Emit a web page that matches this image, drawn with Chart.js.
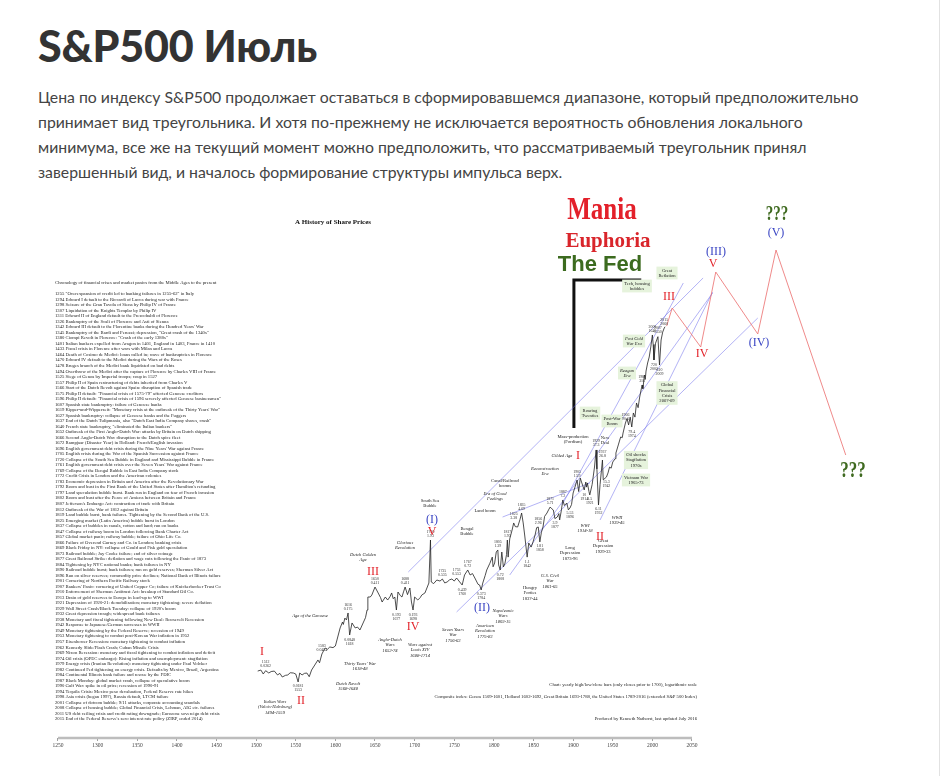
<!DOCTYPE html>
<html>
<head>
<meta charset="utf-8">
<script src="https://cdn.jsdelivr.net/npm/chart.js@4.4.1/dist/chart.umd.min.js"></script>
<style>
  body { margin: 0; background: #fff; width: 942px; height: 776px; overflow: hidden; position: relative; }
  h1 { position: absolute; left: 38px; top: 24px; margin: 0; font: 900 43px/43px Lato, "Noto Sans", sans-serif; color: #333; letter-spacing: -0.2px; }
  .txt { position: absolute; left: 38px; top: 84px; margin: 0; font: 15.8px/25px Lato, "Noto Sans", sans-serif; color: #444; }
  .edge { position: absolute; left: 939px; top: 0; width: 1px; height: 776px; background: #e2e2e2; }
  #wrap { position: absolute; left: 0; top: 190px; width: 942px; height: 586px; }
</style>
</head>
<body>
<h1>S&amp;P500 Июль</h1>
<p class="txt">Цена по индексу S&amp;P500 продолжает оставаться в сформировавшемся диапазоне, который предположительно<br>принимает вид треугольника. И хотя по-прежнему не исключается вероятность обновления локального<br>минимума, все же на текущий момент можно предположить, что рассматриваемый треугольник принял<br>завершенный вид, и началось формирование структуры импульса верх.</p>
<div class="edge"></div>
<div id="wrap"><canvas id="myChart"></canvas></div>
<script>
// composite share price index (log scale)
var years = [1502,1506,1509,1512,1516,1519,1523,1527,1530,1533,1537,1540,1543,1547,1550,1553,1555,1558,1561,1564,1567,1570,1574,1578,1580,1583,1587,1590,1593,1597,1600,1602,1606,1609,1610,1612,1614,1616,1618,1621,1625,1628,1631,1635,1638,1640,1641,1644,1646,1650,1654,1657,1659,1663,1666,1669,1671,1673,1675,1677,1679,1682,1684,1686,1688,1691,1694,1696,1698,1700,1704,1707,1709,1713,1716,1718,1720,1721,1724,1728,1732,1735,1738,1741,1744,1747,1750,1753,1756,1760,1763,1767,1770,1773,1776,1780,1782,1784,1786,1789,1791,1795,1798,1799,1801,1803,1805,1806,1808,1810,1812,1814,1816,1817,1818,1820,1823,1825,1827,1830,1833,1835,1837,1839,1842,1844,1847,1849,1852,1854,1856,1858,1860,1862,1864,1867,1869,1871,1873,1875,1877,1880,1882,1883,1885,1887,1889,1892,1894,1896,1898,1900,1902,1905,1907,1909,1911,1914,1916,1917,1918,1920,1921,1924,1927,1929,1930,1932,1934,1937,1938,1942,1944,1946,1948,1950,1953,1954,1957,1960,1962,1963,1966,1968,1970,1972,1974,1976,1978,1980,1982,1984,1987,1988,1990,1991,1992,1994,1996,1998,2000,2001,2002,2004,2007,2009,2011,2013,2015,2016];
var index = [0.0259,0.0268,0.0235,0.0262,0.0243,0.0255,0.0259,0.0228,0.024,0.0213,0.0225,0.0228,0.0245,0.0243,0.0235,0.0181,0.0243,0.0228,0.024,0.0243,0.0215,0.0268,0.0316,0.0373,0.034,0.0454,0.0553,0.053,0.0572,0.056,0.0591,0.072,0.107,0.13,0.12,0.148,0.139,0.175,0.0848,0.126,0.107,0.11,0.1,0.126,0.15,0.193,0.296,0.296,0.316,0.411,0.338,0.29,0.251,0.296,0.268,0.3,0.338,0.28,0.296,0.193,0.349,0.31,0.296,0.35,0.411,0.32,0.398,0.251,0.193,0.296,0.268,0.29,0.316,0.338,0.411,0.469,1.93,0.485,0.46,0.518,0.5,0.535,0.47,0.485,0.52,0.535,0.5,0.553,0.5,0.439,0.611,0.72,0.611,0.64,0.553,0.45,0.439,0.373,0.469,0.6,0.72,0.9,1.1,0.8,0.906,1.3,1.39,0.85,0.72,1.3,0.794,0.9,1.2,1.93,1.1,2.0,2.68,3.38,3.0,2.96,3.8,4.69,3.38,2.2,1.1,1.75,1.53,1.75,2.28,2.9,2.96,1.81,2.5,2.96,4.2,4.69,5.2,5.71,5.4,5.18,3.9,4.11,4.6,3.73,5.0,7.2,6.0,6.52,5.2,5.53,6.2,9.06,10.7,13.9,9.5,14.8,12.6,10.0,13.0,11.0,12.6,9.5,8.5,12.0,21.3,37.3,20.0,6.11,12.0,26.8,14.0,15.3,17.5,21.3,20.5,25.1,28.0,33.8,44.0,57.2,56.0,65.2,90.6,105,85,110,79.4,126,110,175,150,213,316,280,439,380,500,652,794,1104,1638,1200,720,1250,1550,610,1389,1800,2062,2150];

// labelled highs and lows
var peakYears = [1512,1583,1616,1650,1688,1720,1735,1753,1767,1805,1817,1825,1835,1856,1871,1887,1905,1929,1937,1966,1987,2000,2007,2015];
var troughYears = [1553,1618,1677,1698,1760,1784,1808,1842,1858,1877,1896,1914,1921,1932,1942,1974,2002,2009];

// Elliott wave projection
var forecastYears = [2018,2025,2061,2080,2133,2156,2244];
var forecastValues = [2200,3981,1104,13000,1693,26800,31.6];

// trend channels: [year1, value1, year2, value2]
var channels = [
  [1692,0.674,2064,10680],
  [1753,0.181,2133,2865],
  [1811,4.11,1921,12.6],
  [1820,0.611,2076,6518],
  [1886,6.11,2039,9060],
  [1934,3.73,2076,6740]
];

// "The Fed" bracket
var fedYears = [1901,1901,1986];
var fedValues = [77,10000,10000];

var tickYears = [1250,1300,1350,1400,1450,1500,1550,1600,1650,1700,1750,1800,1850,1900,1950,2000,2050];

var crises = [
  '1255 "Overexpansion of credit led to banking failures in 1255-62" in Italy',
  '1294 Edward I default to the Riccardi of Lucca during war with France',
  '1298 Seizure of the Gran Tavola of Siena by Philip IV of France',
  '1307 Liquidation of the Knights Templar by Philip IV',
  '1311 Edward II of England default to the Frescobaldi of Florence',
  '1326 Bankruptcy of the Scali of Florence and Asti of Sienna',
  "1342 Edward III default to the Florentine banks during the Hundred Years' War",
  '1345 Bankruptcy of the Bardi and Peruzzi; depression, "Great crash of the 1340s"',
  '1380 Ciompi Revolt in Florence: "Crash of the early 1380s"',
  '1401 Italian bankers expelled from Aragon in 1401, England in 1403, France in 1410',
  '1433 Fiscal crisis in Florence after wars with Milan and Lucca',
  '1464 Death of Cosimo de Medici: loans called in; wave of bankruptcies in Florence',
  '1470 Edward IV default to the Medici during the Wars of the Roses',
  '1478 Bruges branch of the Medici bank liquidated on bad debts',
  '1494 Overthrow of the Medici after the capture of Florence by Charles VIII of France',
  '1525 Siege of Genoa by Imperial troops; coup in 1527',
  '1557 Philip II of Spain restructuring of debts inherited from Charles V',
  "1566 Start of the Dutch Revolt against Spain: disruption of Spanish trade",
  '1575 Philip II default: "Financial crisis of 1575-79" affected Genoese creditors',
  '1596 Philip II default: "Financial crisis of 1596 severely affected Genoese businessmen"',
  '1607 Spanish state bankruptcy: failure of Genoese banks',
  "1619 Kipper-und-Wipperzeit: \"Monetary crisis at the outbreak of the Thirty Years' War\"",
  '1627 Spanish bankruptcy: collapse of Genoese banks and the Fuggers',
  '1637 End of the Dutch Tulipmania, also "Dutch East India Company shares, crash"',
  '1640 French state bankruptcy, "eliminated the Italian bankers"',
  '1652 Outbreak of the First Anglo-Dutch War: attacks by Britain on Dutch shipping',
  '1666 Second Anglo-Dutch War: disruption to the Dutch spice fleet',
  '1672 Rampjaar (Disaster Year) in Holland: French/English invasion',
  "1696 English government debt crisis during the Nine Years' War against France",
  '1705 English crisis during the War of the Spanish Succession against France',
  '1720 Collapse of the South Sea Bubble in England and Mississippi Bubble in France',
  "1761 English government debt crisis over the Seven Years' War against France",
  '1769 Collapse of the Bengal Bubble in East India Company stock',
  '1772 Credit Crisis in London and the American colonies',
  '1783 Economic depression in Britain and America after the Revolutionary War',
  "1792 Boom and bust in the First Bank of the United States after Hamilton's refunding",
  '1797 Land speculation bubble burst. Bank run in England on fear of French invasion',
  '1802 Boom and bust after the Peace of Amiens between Britain and France',
  "1807 Jefferson's Embargo Act: contraction of trade with Britain",
  '1812 Outbreak of the War of 1812 against Britain',
  '1819 Land bubble burst, bank failures. Tightening by the Second Bank of the U.S.',
  '1825 Emerging market (Latin America) bubble burst in London',
  '1837 Collapse of bubbles in canals, cotton and land; run on banks',
  '1847 Collapse of railway boom in London following Bank Charter Act',
  '1857 Global market panic; railway bubble; failure of Ohio Life Co.',
  '1866 Failure of Overend Gurney and Co. in London; banking crisis',
  '1869 Black Friday in NY: collapse of Gould and Fisk gold speculation',
  '1873 Railroad bubble; Jay Cooke failure; end of silver coinage',
  '1877 Great Railroad Strike: deflation and wage cuts following the Panic of 1873',
  '1884 Tightening by NYC national banks; bank failures in NY',
  '1890 Railroad bubble burst; bank failures; run on gold reserves; Sherman Silver Act',
  '1896 Run on silver reserves; commodity price declines; National Bank of Illinois failure',
  '1901 Cornering of Northern Pacific Railway stock',
  "1907 Bankers' Panic: cornering of United Copper Co; failure of Knickerbocker Trust Co",
  '1910 Enforcement of Sherman Antitrust Act: breakup of Standard Oil Co.',
  '1913 Drain of gold reserves to Europe in lead-up to WWI',
  '1921 Depression of 1920-21: demobilisation; monetary tightening; severe deflation',
  "1929 Wall Street Crash/Black Tuesday: collapse of 1920's boom",
  '1932 Great depression trough; widespread bank failures',
  '1938 Monetary and fiscal tightening following New Deal: Roosevelt Recession',
  '1942 Response to Japanese/German successes in WWII',
  '1949 Monetary tightening by the Federal Reserve; recession of 1949',
  '1953 Monetary tightening to combat post-Korean War inflation in 1952',
  '1957 Eisenhower Recession: monetary tightening to combat inflation',
  '1962 Kennedy Slide/Flash Crash; Cuban Missile Crisis',
  '1969 Nixon Recession: monetary and fiscal tightening to combat inflation and deficit',
  '1974 Oil crisis (OPEC embargo): Rising inflation and unemployment: stagflation',
  '1979 Energy crisis (Iranian Revolution): monetary tightening under Paul Volcker',
  '1982 Continued Fed tightening on energy crisis. Defaults by Mexico, Brazil, Argentina',
  '1984 Continental Illinois bank failure and rescue by the FDIC',
  '1987 Black Monday: global market crash, collapse of speculative boom',
  '1990 Gulf War: spike in oil price; recession of 1990-91',
  '1994 Tequila Crisis: Mexico peso devaluation, Federal Reserve rate hikes',
  '1998 Asia crisis (began 1997), Russia default, LTCM failure',
  '2001 Collapse of dotcom bubble; 9/11 attacks, corporate accounting scandals',
  '2008 Collapse of housing bubble; Global Financial Crisis, Lehman, AIG etc. failures',
  '2011 US debt ceiling crisis and credit rating downgrade; Eurozone sovereign debt crisis',
  "2015 End of the Federal Reserve's zero interest rate policy (ZIRP, ended 2014)"
];

// era notes: page x, page y (centre), lines, style (i = italic, g = green box)
var notes = [
  [310,616,['Age of the Genoese'],'i'],
  [363,557,['Dutch Golden','Age'],'i'],
  [405,545,['Glorious','Revolution'],'i'],
  [360,666,["Thirty Years' War",'1618-48'],'i'],
  [348,686,['Dutch Revolt','1568-1648'],'i'],
  [390,645,['Anglo-Dutch','Wars','1652-74'],'i'],
  [420,650,['Wars against','Louis XIV','1688-1714'],'i'],
  [453,635,['Seven Years','War','1756-63'],'i'],
  [275,707,['Italian Wars','(Valois-Habsburg)','1494-1559'],'i'],
  [430,503,['South Sea','Bubble'],''],
  [467,531,['Bengal','Bubble'],''],
  [485,511,['Land boom'],''],
  [495,496,['Era of Good','Feelings'],'i'],
  [505,483,['Canal/Railroad','booms'],''],
  [545,471,['Reconstruction','Era'],'i'],
  [562,456,['Gilded Age'],'i'],
  [573,439,['Mass-production','(Fordism)'],''],
  [590,413,['Roaring','Twenties'],'g'],
  [612,421,['Post-War','Boom'],'g'],
  [605,440,['New','Deal'],''],
  [627,373,['Reagan','Era'],'gi'],
  [634,341,['Post Cold','War Era'],'gi'],
  [637,286,['Tech, housing','bubbles'],'g'],
  [667,273,['Great','Reflation'],'g'],
  [667,393,['Global','Financial','Crisis','2007-09'],'g'],
  [636,460,['Oil shocks','Stagflation','1970s'],'g'],
  [636,480,['Vietnam War','1965-73'],'g'],
  [617,520,['WWII','1939-45'],'i'],
  [585,528,['WWI','1914-18'],'i'],
  [603,546,['Great','Depression','1929-33'],''],
  [570,553,['Long','Depression','1873-96'],''],
  [550,581,['U.S. Civil','War','1861-65'],'i'],
  [530,593,['Hungry','Forties','1837-44'],''],
  [503,616,['Napoleonic','Wars','1803-15'],'i'],
  [485,631,['American','Revolution','1775-83'],'i']
];

var redWaves = [[262,652,'I'],[301,701,'II'],[373,572,'III'],[413,627,'IV'],[432,532,'V'],[578,456,'I'],[600,537,'II'],[669,297,'III'],[702,354,'IV'],[713,264,'V']];
var blueWaves = [[432,520,'(I)'],[482,608,'(II)'],[716,252,'(III)'],[759,343,'(IV)'],[776,233,'(V)']];

var TOP = 190;
var SERIF = '"Liberation Serif", "DejaVu Serif", serif';

function pts(xs, ys) {
    return xs.map(function (x, i) { return { x: x, y: ys[i] }; });
}

var datasets = [];
datasets.push({
    data: pts(years, index),
    borderColor: '#222',
    borderWidth: 0.8
});
datasets.push({
    data: pts(forecastYears, forecastValues),
    borderColor: 'rgba(235,110,110,0.9)',
    borderWidth: 0.9
});
channels.forEach(function (c) {
    datasets.push({
        data: [{ x: c[0], y: c[1] }, { x: c[2], y: c[3] }],
        borderColor: 'rgba(110,110,235,0.75)',
        borderWidth: 0.7
    });
});
datasets.push({
    data: pts(fedYears, fedValues),
    borderColor: '#111',
    borderWidth: 3
});

var yMin = 0.002865;
var yMax = 193070;

datasets.push({
    data: [{ x: 1250, y: yMin }, { x: 2050, y: yMin }],
    borderColor: '#bdbdbd',
    borderWidth: 2.5,
    clip: false
});

/////////////////////////////////////////////////////////////////

var textPlugin = {
    id: 'texts',
    afterDraw: function (chart) {
        var ctx = chart.ctx;
        var xs = chart.scales.x;
        var ys = chart.scales.y;
        ctx.save();
        ctx.textBaseline = 'middle';

        // chart title and chronology
        ctx.fillStyle = '#111';
        ctx.textAlign = 'center';
        ctx.font = 'bold 7px ' + SERIF;
        ctx.fillText('A History of Share Prices', 333, 222 - TOP);

        ctx.textAlign = 'left';
        ctx.font = '4.7px ' + SERIF;
        ctx.fillStyle = '#222';
        ctx.fillText('Chronology of financial crises and market panics from the Middle Ages to the present', 55, 283 - TOP);
        crises.forEach(function (t, i) {
            ctx.fillText(t, 55, 294 - TOP + i * 5.52);
        });

        ctx.textAlign = 'right';
        ctx.fillText('Chart: yearly high/low/close bars (only closes prior to 1700), logarithmic scale', 697, 685 - TOP);
        ctx.fillText('Composite index: Genoa 1509-1601, Holland 1602-1692, Great Britain 1693-1788, the United States 1789-2016 (extended S&P 500 Index)', 697, 697 - TOP);
        ctx.fillText('Produced by Kenneth Nathorst, last updated July 2016', 697, 719 - TOP);

        // era notes
        ctx.textAlign = 'center';
        notes.forEach(function (n) {
            var lh = 5.4;
            var h = n[2].length * lh;
            var y0 = n[1] - TOP - h / 2 + lh / 2;
            ctx.font = (n[3].indexOf('i') >= 0 ? 'italic ' : '') + '4.6px ' + SERIF;
            if (n[3].indexOf('g') >= 0) {
                var w = 0;
                n[2].forEach(function (l) { w = Math.max(w, ctx.measureText(l).width); });
                ctx.fillStyle = '#e6f3dc';
                ctx.fillRect(n[0] - w / 2 - 2, y0 - lh / 2 - 1, w + 4, h + 2);
            }
            ctx.fillStyle = '#222';
            n[2].forEach(function (l, i) {
                ctx.fillText(l, n[0], y0 + i * lh);
            });
        });

        // highs and lows with their values
        ctx.font = '3.9px ' + SERIF;
        ctx.fillStyle = '#333';
        peakYears.forEach(function (yr) {
            var i = years.indexOf(yr);
            var px = xs.getPixelForValue(yr);
            var py = ys.getPixelForValue(index[i]);
            ctx.fillText(String(yr), px, py - 8.5);
            ctx.fillText(String(+index[i].toPrecision(3)), px, py - 4.5);
        });
        troughYears.forEach(function (yr) {
            var i = years.indexOf(yr);
            var px = xs.getPixelForValue(yr);
            var py = ys.getPixelForValue(index[i]);
            ctx.fillText(String(+index[i].toPrecision(3)), px, py + 4.5);
            ctx.fillText(String(yr), px, py + 8.5);
        });

        // wave counts
        ctx.font = '12px ' + SERIF;
        ctx.fillStyle = '#e3242b';
        redWaves.forEach(function (w) { ctx.fillText(w[2], w[0], w[1] - TOP); });
        ctx.fillStyle = '#3b46c4';
        blueWaves.forEach(function (w) { ctx.fillText(w[2], w[0], w[1] - TOP); });

        // big headings
        function stretched(t, x, y, sy) {
            ctx.save();
            ctx.translate(x, y);
            ctx.scale(1, sy);
            ctx.fillText(t, 0, 0);
            ctx.restore();
        }
        ctx.textBaseline = 'alphabetic';
        ctx.fillStyle = '#e3202a';
        ctx.font = 'bold 25px ' + SERIF;
        stretched('Mania', 602, 219 - TOP, 1.3);
        ctx.fillStyle = '#d9252b';
        ctx.font = 'bold 21px ' + SERIF;
        stretched('Euphoria', 608, 247 - TOP, 1.0);
        ctx.fillStyle = '#3c6b1f';
        ctx.font = 'bold 22px "Liberation Sans", Arial, sans-serif';
        stretched('The Fed', 600, 271 - TOP, 1.0);
        ctx.fillStyle = '#3f6a20';
        ctx.font = 'bold 15px ' + SERIF;
        stretched('???', 777, 220 - TOP, 1.45);
        ctx.font = 'bold 17px ' + SERIF;
        stretched('???', 853, 477 - TOP, 1.3);

        ctx.restore();
    }
};

var config = {
    type: 'line',
    data: { datasets: datasets },
    options: {
        responsive: true,
        maintainAspectRatio: false,
        animation: false,
        layout: { padding: { left: 0, right: 0, top: 0, bottom: 24 } },
        elements: { point: { radius: 0 }, line: { tension: 0 } },
        plugins: { legend: { display: false }, tooltip: { enabled: false } },
        scales: {
            x: {
                type: 'linear',
                min: 1250 - 58 / 0.7925,
                max: 1250 + (942 - 58) / 0.7925,
                afterBuildTicks: function (scale) {
                    scale.ticks = tickYears.map(function (v) { return { value: v }; });
                },
                afterFit: function (scale) { scale.height = 14; },
                border: { display: false },
                grid: { drawOnChartArea: false, tickLength: 3, color: '#777', lineWidth: 0.7 },
                ticks: {
                    autoSkip: false, maxRotation: 0, padding: 1, color: '#444',
                    font: { family: SERIF, size: 5.5 },
                    callback: function (value) { return String(value); }
                }
            },
            y: {
                type: 'logarithmic',
                display: false,
                min: yMin,
                max: yMax
            }
        }
    },
    plugins: [textPlugin]
};

var myChart = new Chart(document.getElementById('myChart'), config);
</script>
</body>
</html>
